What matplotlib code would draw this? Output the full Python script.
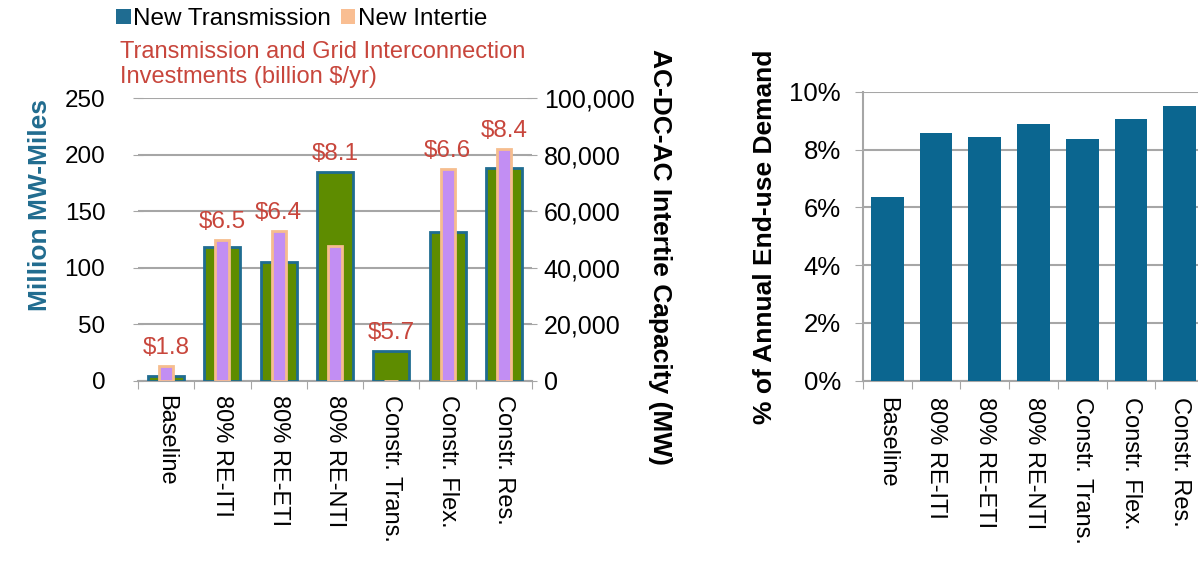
import matplotlib
matplotlib.use("Agg")
import matplotlib.pyplot as plt
from matplotlib.patches import Patch
import numpy as np

plt.rcParams["font.family"] = ["Liberation Sans", "DejaVu Sans"]

# Scenario names shared by both panels
categories = ["Baseline", "80% RE-ITI", "80% RE-ETI", "80% RE-NTI",
              "Constr. Trans.", "Constr. Flex.", "Constr. Res."]

# Left panel: new transmission (million MW-miles) and new intertie capacity (MW)
new_transmission = [4, 118, 105, 185, 26, 132, 188]
new_intertie = [5300, 49800, 53100, 47700, 0, 75000, 82000]
investment_labels = ["$1.8", "$6.5", "$6.4", "$8.1", "$5.7", "$6.6", "$8.4"]

# Right panel: share of annual end-use demand (%)
demand_share = [6.37, 8.56, 8.44, 8.88, 8.35, 9.07, 9.50]

W, H = 1198, 571
fig = plt.figure(figsize=(W / 100, H / 100), dpi=100)


def px(x0, y_top, w, h):
    """Axes rectangle from pixel geometry (left, top, width, height)."""
    return [x0 / W, 1 - (y_top + h) / H, w / W, h / H]


GRID = "#a6a6a6"
TRANS_FILL = "#5e8c00"
TRANS_EDGE = "#1f6c91"
TIE_FILL = "#c28ef3"
TIE_EDGE = "#f6bd8e"
RED = "#c8463c"
n = len(categories)
x = np.arange(n)

# ---------------- left panel ----------------
axL = fig.add_axes(px(138, 98.2, 394, 282.5))
axL.bar(x, new_transmission, width=0.64, color=TRANS_FILL,
        edgecolor=TRANS_EDGE, linewidth=2.0, zorder=3)
axL.set_ylim(0, 250)
axL.set_xlim(-0.5, n - 0.5)
axL.set_yticks(np.arange(0, 251, 50))
axL.yaxis.grid(True, color=GRID, linewidth=1.5, zorder=0)
axL.set_axisbelow(True)
for s in ["left", "right", "top"]:
    axL.spines[s].set_visible(False)
axL.spines["bottom"].set_color(GRID)
axL.spines["bottom"].set_linewidth(1.5)
axL.tick_params(axis="y", direction="inout", length=7, color=GRID,
                labelsize=17.5, pad=20)
axL.set_xticks(np.arange(-0.5, n, 1.0))
axL.set_xticklabels([])
axL.tick_params(axis="x", direction="out", length=6, color=GRID)
for xi, name in zip(x, categories):
    axL.text(xi, -0.05, name, transform=axL.get_xaxis_transform(),
             rotation=-90, ha="center", va="top", fontsize=17)

axR = axL.twinx()
axR.bar(x, new_intertie, width=0.25, color=TIE_FILL, edgecolor=TIE_EDGE,
        linewidth=2.0, zorder=4)
axR.set_ylim(0, 100000)
axR.set_yticks(np.arange(0, 100001, 20000))
axR.set_yticklabels([f"{v:,}" for v in range(0, 100001, 20000)])
for s in ["left", "right", "top", "bottom"]:
    axR.spines[s].set_visible(False)
axR.tick_params(axis="y", direction="inout", length=7, color=GRID,
                labelsize=18, pad=5)

# Axis titles of the left panel
fig.text(40 / W, 1 - 205 / H, "Million MW-Miles", rotation=90,
         ha="center", va="center", fontsize=19, fontweight="bold",
         color="#216c8f")
fig.text(660 / W, 1 - 257 / H, "AC-DC-AC Intertie Capacity (MW)",
         rotation=-90, ha="center", va="center", fontsize=19,
         fontweight="bold")

# Investment labels above the taller bar of each scenario
for xi, t, tr, tie in zip(x, investment_labels, new_transmission, new_intertie):
    top = max(tr, tie / 400.0)
    axL.annotate(t, (xi, top), xytext=(0, 5), textcoords="offset points",
                 ha="center", va="bottom", fontsize=17.5, color=RED, zorder=6)

# Legend and series title above the left panel
handles = [Patch(facecolor="#1f6c91", edgecolor="none", label="New Transmission"),
           Patch(facecolor="#f9be92", edgecolor="none", label="New Intertie")]
fig.legend(handles=handles, loc="center left",
           bbox_to_anchor=(116 / W, 1 - 19 / H),
           ncol=2, frameon=False, fontsize=17.5, handlelength=0.6,
           handleheight=0.6, handletextpad=0.1, columnspacing=0.4,
           borderaxespad=0, borderpad=0)
fig.text(120 / W, 1 - 52 / H, "Transmission and Grid Interconnection",
         color=RED, fontsize=17, va="center", ha="left")
fig.text(120 / W, 1 - 77 / H, "Investments (billion $/yr)",
         color=RED, fontsize=17, va="center", ha="left")

# ---------------- right panel ----------------
ax2 = fig.add_axes(px(863, 91.7, 341, 289))
ax2.bar(x, demand_share, width=0.67, color="#0b6690", zorder=3)
ax2.set_ylim(0, 10)
ax2.set_xlim(-0.5, n - 0.5)
ax2.set_yticks(np.arange(0, 11, 2))
ax2.set_yticklabels([f"{v}%" for v in range(0, 11, 2)])
ax2.yaxis.grid(True, color=GRID, linewidth=1.5, zorder=0)
ax2.set_axisbelow(True)
for s in ["right", "top"]:
    ax2.spines[s].set_visible(False)
for s in ["left", "bottom"]:
    ax2.spines[s].set_color(GRID)
    ax2.spines[s].set_linewidth(1.5)
ax2.tick_params(axis="y", direction="out", length=6, color=GRID,
                labelsize=18.5, pad=10)
ax2.set_xticks(np.arange(-0.5, n, 1.0))
ax2.set_xticklabels([])
ax2.tick_params(axis="x", direction="out", length=6, color=GRID)
for xi, name in zip(x, categories):
    ax2.text(xi, -0.055, name, transform=ax2.get_xaxis_transform(),
             rotation=-90, ha="center", va="top", fontsize=17)
fig.text(765 / W, 1 - 237 / H, "% of Annual End-use Demand", rotation=90,
         ha="center", va="center", fontsize=19, fontweight="bold")

fig.savefig("out.png", dpi=100)
